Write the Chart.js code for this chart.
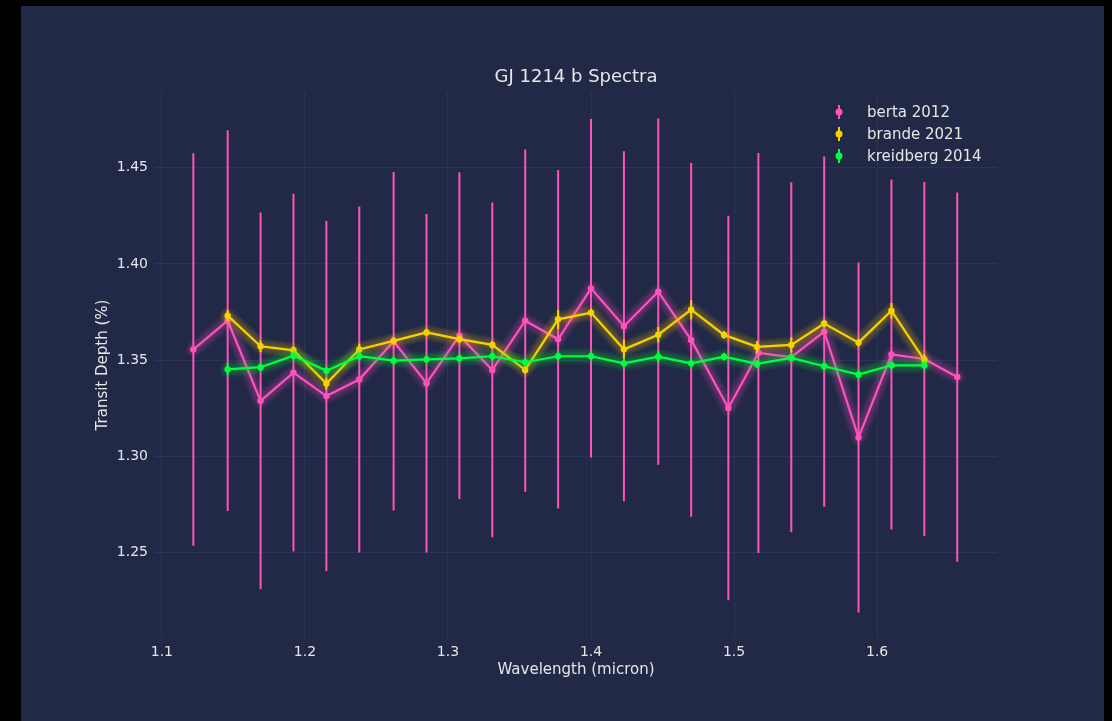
<!DOCTYPE html>
<html>
<head>
<meta charset="utf-8">
<script src="https://cdn.jsdelivr.net/npm/chart.js@4.4.1/dist/chart.umd.min.js"></script>
<style>
  html, body { margin: 0; padding: 0; background: #000; }
  #panel { position: absolute; left: 21px; top: 6px; width: 1083px; height: 715px; background: #212946; }
</style>
</head>
<body>
<div id="panel"><canvas id="myChart" width="1083" height="715"></canvas></div>
<script>
// wavelength bins (micron)
var bertaWave = [1.122, 1.146, 1.169, 1.192, 1.215, 1.238, 1.262, 1.285, 1.308, 1.331, 1.354, 1.377,
                 1.400, 1.423, 1.447, 1.470, 1.496, 1.517, 1.540, 1.563, 1.587, 1.610, 1.633, 1.656];
var bertaDepth = [1.3555, 1.3705, 1.3288, 1.3435, 1.3313, 1.3399, 1.3598, 1.3380, 1.3627, 1.3449, 1.3705, 1.3608,
                  1.3873, 1.3676, 1.3856, 1.3605, 1.3251, 1.3537, 1.3515, 1.3648, 1.3097, 1.3529, 1.3506, 1.3412];
var bertaErr = [0.102, 0.099, 0.098, 0.093, 0.091, 0.090, 0.088, 0.088, 0.085, 0.087, 0.089, 0.088,
                0.088, 0.091, 0.090, 0.092, 0.100, 0.104, 0.091, 0.091, 0.091, 0.091, 0.092, 0.096];

var otherWave = [1.146, 1.169, 1.192, 1.215, 1.238, 1.262, 1.285, 1.308, 1.331, 1.354, 1.377,
                 1.400, 1.423, 1.447, 1.470, 1.493, 1.516, 1.540, 1.563, 1.587, 1.610, 1.633];
var brandeDepth = [1.3731, 1.3572, 1.3551, 1.3378, 1.3555, 1.3600, 1.3644, 1.3609, 1.3579, 1.3449, 1.3712,
                   1.3747, 1.3556, 1.3632, 1.3762, 1.3631, 1.3569, 1.3579, 1.3690, 1.3591, 1.3757, 1.3500];
var brandeErr = [0.003, 0.003, 0.002, 0.003, 0.003, 0.002, 0.002, 0.002, 0.002, 0.002, 0.005,
                 0.002, 0.005, 0.004, 0.005, 0.002, 0.003, 0.004, 0.002, 0.002, 0.004, 0.003];
var kreidbergDepth = [1.3452, 1.3463, 1.3523, 1.3445, 1.3520, 1.3497, 1.3504, 1.3509, 1.3520, 1.3489, 1.3520,
                      1.3520, 1.3483, 1.3518, 1.3483, 1.3518, 1.3480, 1.3511, 1.3468, 1.3425, 1.3473, 1.3473];
var kreidbergErr = [0.003, 0.002, 0.002, 0.002, 0.002, 0.002, 0.002, 0.002, 0.002, 0.002, 0.002,
                    0.002, 0.002, 0.003, 0.002, 0.002, 0.002, 0.002, 0.002, 0.002, 0.002, 0.002];

var xTicks = [1.1, 1.2, 1.3, 1.4, 1.5, 1.6];
var yTicks = [1.25, 1.30, 1.35, 1.40, 1.45];

var textColor = '#e6e6e6';
var gridColor = '#2A3459';
var fontFamily = '"DejaVu Sans", sans-serif';

function toPoints(xs, ys) {
    return xs.map(function (x, i) { return { x: x, y: ys[i] }; });
}

function makeSet(label, xs, ys, errs, color, order) {
    return {
        label: label,
        data: toPoints(xs, ys),
        errors: errs,
        borderColor: color,
        backgroundColor: color,
        borderWidth: 2.2,
        pointRadius: 3.2,
        pointBorderWidth: 0,
        pointBackgroundColor: color,
        tension: 0,
        order: order
    };
}

// glow + error bars, drawn under each dataset's own line
var glowAndErrors = {
    id: 'glowAndErrors',
    beforeDatasetDraw: function (chart, args) {
        var ctx = chart.ctx;
        var ds = chart.data.datasets[args.index];
        var pts = args.meta.data;
        var yScale = chart.scales.y;
        ctx.save();
        ctx.lineJoin = 'round';
        ctx.lineCap = 'round';
        ctx.strokeStyle = ds.borderColor;
        for (var n = 1; n <= 10; n++) {
            ctx.globalAlpha = 0.035;
            ctx.lineWidth = 2.2 + 1.05 * n * 1.39;
            ctx.beginPath();
            pts.forEach(function (p, i) {
                if (i === 0) ctx.moveTo(p.x, p.y); else ctx.lineTo(p.x, p.y);
            });
            ctx.stroke();
        }
        ctx.globalAlpha = 1;
        ctx.lineCap = 'butt';
        ctx.lineWidth = 2;
        ds.data.forEach(function (d, i) {
            var e = ds.errors[i];
            var x = pts[i].x;
            ctx.beginPath();
            ctx.moveTo(x, yScale.getPixelForValue(d.y + e));
            ctx.lineTo(x, yScale.getPixelForValue(d.y - e));
            ctx.stroke();
        });
        ctx.restore();
    }
};

// matplotlib-style legend in the upper right
var mplLegend = {
    id: 'mplLegend',
    afterDraw: function (chart) {
        var ctx = chart.ctx;
        ctx.save();
        ctx.font = '15px ' + fontFamily;
        ctx.textBaseline = 'middle';
        ctx.textAlign = 'left';
        chart.data.datasets.forEach(function (ds, i) {
            var y = 106 + i * 22;
            var x = 818;
            ctx.strokeStyle = ds.borderColor;
            ctx.fillStyle = ds.borderColor;
            ctx.lineWidth = 2;
            ctx.beginPath();
            ctx.moveTo(x, y - 7);
            ctx.lineTo(x, y + 7);
            ctx.stroke();
            ctx.beginPath();
            ctx.arc(x, y, 3.5, 0, Math.PI * 2);
            ctx.fill();
            ctx.fillStyle = textColor;
            ctx.fillText(ds.label, 846, y + 1);
        });
        ctx.restore();
    }
};

var ctx = document.getElementById('myChart').getContext('2d');
var myChart = new Chart(ctx, {
    type: 'line',
    data: {
        datasets: [
            makeSet('berta 2012', bertaWave, bertaDepth, bertaErr, '#FE53BB', 3),
            makeSet('brande 2021', otherWave, brandeDepth, brandeErr, '#F5D300', 2),
            makeSet('kreidberg 2014', otherWave, kreidbergDepth, kreidbergErr, '#00ff41', 1)
        ]
    },
    options: {
        responsive: false,
        animation: false,
        devicePixelRatio: 1,
        layout: { padding: { left: 0, right: 107, top: 0, bottom: 0 } },
        plugins: {
            legend: { display: false },
            tooltip: { enabled: false },
            title: {
                display: true,
                fullSize: false,
                text: 'GJ 1214 b Spectra',
                color: textColor,
                font: { family: fontFamily, size: 18, weight: 'normal' },
                padding: { top: 60.2, bottom: 4.2 }
            }
        },
        scales: {
            x: {
                type: 'linear',
                min: 1.0952,
                max: 1.6838,
                afterFit: function (s) { s.height = 83; },
                afterBuildTicks: function (s) { s.ticks = xTicks.map(function (v) { return { value: v }; }); },
                grid: { color: gridColor, lineWidth: 1, drawTicks: false },
                border: { display: false },
                ticks: {
                    color: textColor,
                    padding: 6,
                    maxRotation: 0,
                    font: { family: fontFamily, size: 14 },
                    callback: function (v) { return v.toFixed(1); }
                },
                title: {
                    display: true,
                    text: 'Wavelength (micron)',
                    color: textColor,
                    font: { family: fontFamily, size: 15 },
                    padding: { top: 0, bottom: 42 }
                }
            },
            y: {
                min: 1.2055,
                max: 1.4894,
                afterFit: function (s) { s.width = 134; },
                afterBuildTicks: function (s) { s.ticks = yTicks.map(function (v) { return { value: v }; }); },
                grid: { color: gridColor, lineWidth: 1, drawTicks: false },
                border: { display: false },
                ticks: {
                    color: textColor,
                    padding: 7,
                    font: { family: fontFamily, size: 14 },
                    callback: function (v) { return v.toFixed(2); }
                },
                title: {
                    display: true,
                    text: 'Transit Depth (%)',
                    color: textColor,
                    font: { family: fontFamily, size: 15 },
                    padding: { top: 73, bottom: 0 }
                }
            }
        }
    },
    plugins: [glowAndErrors, mplLegend]
});
</script>
</body>
</html>
